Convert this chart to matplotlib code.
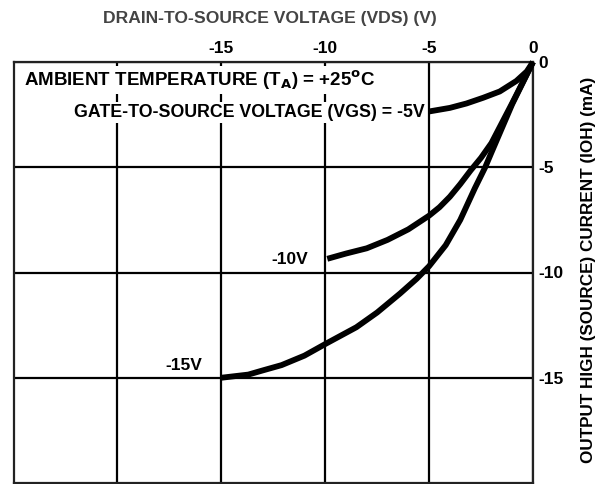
import matplotlib
matplotlib.use("Agg")
import matplotlib.pyplot as plt

# Data
vds_5 = [0, -0.3, -0.8, -1.6, -2.4, -3.2, -4.0, -5.0]
ioh_5 = [0, -0.45, -0.9, -1.4, -1.7, -1.97, -2.18, -2.35]

vds_10 = [0, -1, -2, -2.5, -3, -3.5, -4, -4.5, -5, -6, -7, -8, -9, -9.9]
ioh_10 = [0, -1.95, -3.85, -4.55, -5.15, -5.8, -6.4, -6.9, -7.3, -7.95, -8.45, -8.85, -9.1, -9.35]

vds_15 = [0, -1, -2, -2.3, -2.8, -3.5, -4.2, -5.0, -5.6, -6.4, -7.5, -8.5, -10, -11, -12.1, -13.0, -13.7, -15]
ioh_15 = [0, -2.0, -4.3, -5.0, -6.0, -7.5, -8.7, -9.7, -10.3, -11.0, -11.9, -12.6, -13.4,
          -13.95, -14.4, -14.65, -14.85, -15.0]

x_ticks = [-20, -15, -10, -5, 0]
x_labels = ["", "-15", "-10", "-5", "0"]
y_ticks = [-15, -10, -5, 0]
y_labels = ["-15", "-10", "-5", "0"]

plt.rcParams['font.family'] = ['Liberation Sans', 'DejaVu Sans']
plt.rcParams['font.weight'] = 'bold'

fig = plt.figure(figsize=(6.02, 4.84), dpi=100)
ax = fig.add_axes([13.5 / 602, 1 - 483 / 484, (533 - 13.5) / 602, (483 - 62) / 484])
ax.set_xlim(-25, 0)
ax.set_ylim(-20, 0)

ax.set_xticks(x_ticks)
ax.set_xticklabels(x_labels)
ax.set_yticks(y_ticks)
ax.set_yticklabels(y_labels)
ax.xaxis.tick_top()
ax.yaxis.tick_right()
ax.tick_params(length=0, labelsize=12.5, pad=4)
for lab in ax.get_xticklabels() + ax.get_yticklabels():
    lab.set_fontweight('bold')
ax.grid(True, color='black', linewidth=1.6, zorder=1)
for s in ax.spines.values():
    s.set_linewidth(1.6)
    s.set_color('#222222')

lw = 4.2
for xs, ys in [(vds_5, ioh_5), (vds_10, ioh_10), (vds_15, ioh_15)]:
    ax.plot(xs, ys, color='black', lw=lw, solid_capstyle='butt', solid_joinstyle='round',
            zorder=3, clip_on=False)

fig.text(270 / 602, 1 - 18 / 484, "DRAIN-TO-SOURCE VOLTAGE (VDS) (V)", ha='center', va='center',
         fontsize=12.6, fontweight='bold', color='#444444')
fig.text(589 / 602, 1 - 270 / 484, "OUTPUT HIGH (SOURCE) CURRENT (IOH) (mA)", ha='center', va='center',
         rotation=90, fontsize=12.3, fontweight='bold', color='black')

bbox = dict(facecolor='white', edgecolor='none', pad=1.5)
ax.text(-24.5, -0.85, r"AMBIENT TEMPERATURE (T$_\mathbf{A}$) = +25$^\mathbf{o}$C", ha='left', va='center',
        fontsize=13.5, fontweight='bold', bbox=bbox, zorder=4)
ax.text(-5.2, -2.4, "GATE-TO-SOURCE VOLTAGE (VGS) = -5V", ha='right', va='center',
        fontsize=12.8, fontweight='bold', bbox=bbox, zorder=4)
ax.text(-10.8, -9.4, "-10V", ha='right', va='center', fontsize=12.5, fontweight='bold', zorder=4)
ax.text(-15.9, -14.4, "-15V", ha='right', va='center', fontsize=12.5, fontweight='bold', zorder=4)

fig.savefig("out.png", dpi=100)
